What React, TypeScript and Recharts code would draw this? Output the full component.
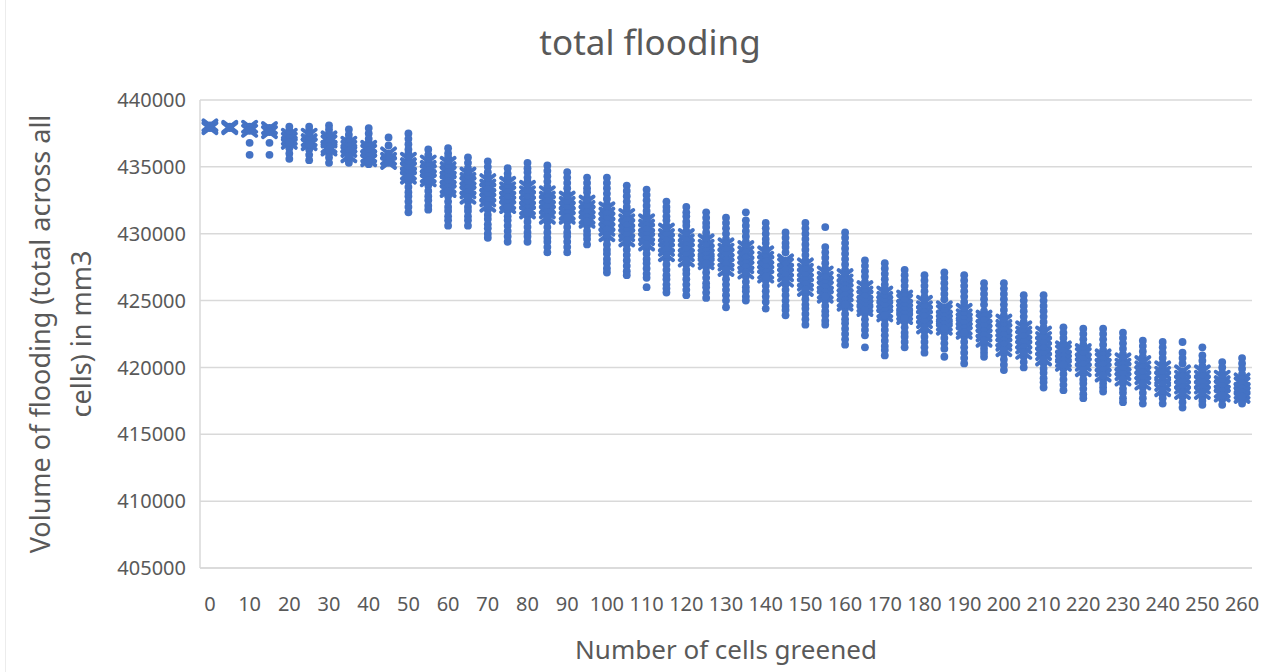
import { ScatterChart, Scatter, XAxis, YAxis, CartesianGrid } from 'recharts';

// Number of cells greened (one column of runs per step)
const cellsGreened = [
  0, 5, 10, 15, 20, 25, 30, 35, 40, 45, 50, 55, 60, 65, 70, 75, 80, 85, 90, 95,
  100, 105, 110, 115, 120, 125, 130, 135, 140, 145, 150, 155, 160, 165, 170, 175,
  180, 185, 190, 195, 200, 205, 210, 215, 220, 225, 230, 235, 240, 245, 250, 255, 260,
];

// Outlying runs per column, thousands of mm3
const runVolumes: number[][] = [
  [],
  [],
  [436.8, 435.9],
  [436.8, 435.9],
  [438.0, 437.7, 436.4, 436.0, 435.6],
  [438.0, 437.7, 436.3, 435.9, 435.5],
  [438.1, 437.8, 437.5, 436.0, 435.7, 435.3],
  [437.8, 437.4, 437.1, 435.5, 435.3],
  [437.9, 437.5, 437.1, 436.8, 435.2],
  [437.2, 436.6],
  [437.5, 437.1, 436.7, 436.3, 436.0, 433.9, 433.5, 433.1, 432.8, 432.4, 432.0, 431.6],
  [436.3, 435.9, 433.6, 433.2, 432.8, 432.5, 432.1, 431.8],
  [436.4, 436.0, 435.7, 432.8, 432.4, 432.0, 431.7, 431.3, 431.0, 430.6],
  [435.7, 435.3, 434.9, 432.4, 432.0, 431.7, 431.3, 431.0, 430.6],
  [435.4, 435.0, 434.6, 434.3, 431.8, 431.4, 431.1, 430.7, 430.4, 430.0, 429.7],
  [434.9, 434.5, 434.2, 431.7, 431.3, 431.0, 430.6, 430.2, 429.8, 429.4],
  [435.3, 434.9, 434.6, 434.2, 433.9, 431.3, 430.9, 430.5, 430.1, 429.8, 429.4],
  [435.1, 434.7, 434.3, 433.9, 433.5, 430.9, 430.5, 430.1, 429.7, 429.4, 429.0, 428.6],
  [434.6, 434.2, 433.8, 433.4, 433.0, 430.9, 430.5, 430.1, 429.8, 429.4, 429.0, 428.6],
  [434.2, 433.8, 433.4, 433.1, 432.7, 430.6, 430.2, 429.9, 429.6, 429.2],
  [434.2, 433.8, 433.4, 433.0, 432.6, 432.2, 429.6, 429.2, 428.8, 428.5, 428.1, 427.8, 427.4, 427.1],
  [433.6, 433.2, 432.8, 432.4, 432.0, 431.7, 429.2, 428.8, 428.4, 428.0, 427.6, 427.2, 426.9],
  [433.3, 432.9, 432.5, 432.1, 431.7, 431.4, 428.9, 428.5, 428.1, 427.8, 427.4, 427.0, 426.7, 426.0],
  [432.4, 432.0, 431.7, 431.3, 431.0, 430.6, 428.1, 427.7, 427.3, 426.9, 426.6, 426.2, 425.9, 425.6],
  [432.0, 431.6, 431.3, 430.9, 430.6, 430.2, 427.7, 427.3, 427.0, 426.6, 426.2, 425.8, 425.4],
  [431.6, 431.2, 430.8, 430.5, 430.1, 429.8, 427.5, 427.1, 426.7, 426.3, 426.0, 425.6, 425.2],
  [431.2, 430.8, 430.4, 430.0, 429.6, 427.0, 426.6, 426.2, 425.8, 425.4, 425.0, 424.5],
  [431.6, 431.0, 430.6, 430.2, 429.8, 429.4, 426.8, 426.4, 426.0, 425.7, 425.3, 425.0],
  [430.8, 430.4, 430.0, 429.6, 429.3, 428.9, 426.5, 426.1, 425.7, 425.3, 424.9, 424.4],
  [430.1, 429.7, 429.3, 429.0, 428.6, 426.2, 425.8, 425.4, 425.0, 424.6, 424.3, 423.9],
  [430.8, 430.4, 430.0, 429.6, 429.2, 428.8, 428.4, 428.0, 425.5, 425.1, 424.7, 424.4, 424.0, 423.6, 423.2],
  [430.5, 429.0, 428.6, 428.2, 427.8, 427.4, 425.0, 424.6, 424.2, 423.9, 423.5, 423.2],
  [430.1, 429.7, 429.3, 428.9, 428.5, 428.1, 427.7, 427.3, 424.4, 424.0, 423.6, 423.3, 422.9, 422.5, 422.1, 421.7],
  [428.0, 427.6, 427.2, 426.8, 426.4, 424.0, 423.6, 423.2, 422.8, 422.4, 421.5],
  [427.8, 427.4, 427.0, 426.6, 426.2, 425.9, 423.6, 423.2, 422.8, 422.4, 422.0, 421.6, 421.3, 420.9],
  [427.3, 426.9, 426.5, 426.1, 425.7, 423.4, 423.0, 422.6, 422.3, 421.9, 421.5],
  [426.9, 426.5, 426.1, 425.7, 425.3, 422.7, 422.3, 421.9, 421.5, 421.1],
  [427.1, 426.7, 426.3, 425.9, 425.5, 425.1, 422.6, 422.2, 421.8, 421.4, 420.8],
  [426.9, 426.5, 426.1, 425.7, 425.3, 424.9, 424.6, 422.3, 421.9, 421.5, 421.1, 420.7, 420.3],
  [426.3, 425.9, 425.5, 425.1, 424.7, 424.2, 421.7, 421.4, 421.1, 420.8],
  [426.3, 425.9, 425.5, 425.1, 424.7, 424.3, 423.9, 421.0, 420.6, 420.2, 419.8],
  [425.4, 425.0, 424.6, 424.2, 423.8, 423.4, 420.8, 420.4, 420.0],
  [425.4, 425.0, 424.6, 424.2, 423.8, 423.4, 423.0, 420.3, 419.9, 419.6, 419.2, 418.9, 418.5],
  [423.0, 422.6, 422.2, 421.8, 419.9, 419.5, 419.1, 418.7, 418.3],
  [422.9, 422.5, 422.1, 421.7, 419.5, 419.1, 418.8, 418.4, 418.0, 417.7],
  [422.9, 422.5, 422.1, 421.7, 421.3, 419.1, 418.8, 418.5, 418.2],
  [422.6, 422.2, 421.8, 421.4, 421.0, 418.8, 418.4, 418.1, 417.7, 417.4],
  [422.0, 421.6, 421.2, 420.8, 418.5, 418.1, 417.7, 417.3],
  [421.9, 421.5, 421.1, 420.7, 420.3, 418.0, 417.7, 417.3],
  [421.9, 421.1, 420.7, 420.3, 417.8, 417.4, 417.0],
  [421.5, 420.9, 420.5, 420.1, 417.8, 417.5, 417.2],
  [420.4, 420.0, 419.6, 417.6, 417.2],
  [420.7, 420.3, 419.9, 419.5, 417.5, 417.3],
];

// Dense middle band per column (drawn with cross markers), thousands of mm3
const coreVolumes: number[][] = [
  [438.1, 437.9],
  [438.0, 437.9],
  [438.0, 437.7],
  [437.9, 437.6],
  [437.4, 437.1, 436.8],
  [437.4, 437.0, 436.7],
  [437.2, 436.9, 436.5, 436.3],
  [436.8, 436.5, 436.2, 435.8],
  [436.5, 436.2, 435.8, 435.5],
  [436.0, 435.6, 435.3],
  [435.6, 435.2, 434.9, 434.5, 434.2],
  [435.4, 435.0, 434.7, 434.3, 434.0],
  [435.3, 434.9, 434.6, 434.2, 433.9, 433.5, 433.2],
  [434.5, 434.1, 433.8, 433.4, 433.1, 432.7],
  [434.0, 433.6, 433.3, 432.9, 432.5, 432.1],
  [433.8, 433.4, 433.1, 432.7, 432.3, 432.0],
  [433.5, 433.1, 432.7, 432.3, 431.9, 431.6],
  [433.1, 432.7, 432.4, 432.0, 431.6, 431.2],
  [432.7, 432.3, 431.9, 431.5, 431.2],
  [432.4, 432.0, 431.6, 431.2, 430.9],
  [431.9, 431.5, 431.1, 430.7, 430.3, 429.9],
  [431.4, 431.0, 430.6, 430.2, 429.9, 429.5],
  [431.0, 430.6, 430.3, 429.9, 429.6, 429.2],
  [430.3, 429.9, 429.5, 429.1, 428.8, 428.4],
  [429.9, 429.5, 429.1, 428.8, 428.4, 428.0],
  [429.5, 429.1, 428.7, 428.4, 428.1, 427.8],
  [429.2, 428.8, 428.4, 428.0, 427.7, 427.3],
  [429.0, 428.6, 428.2, 427.8, 427.5, 427.1],
  [428.6, 428.2, 427.9, 427.5, 427.1, 426.8],
  [428.0, 427.7, 427.3, 426.9, 426.5],
  [427.7, 427.3, 426.9, 426.5, 426.2, 425.8],
  [427.1, 426.7, 426.3, 426.0, 425.6, 425.3],
  [426.9, 426.5, 426.1, 425.8, 425.4, 425.0, 424.7],
  [426.0, 425.6, 425.3, 424.9, 424.6, 424.3],
  [425.6, 425.2, 424.9, 424.6, 424.2, 423.9],
  [425.3, 425.0, 424.6, 424.3, 424.0, 423.7],
  [424.9, 424.5, 424.1, 423.8, 423.4, 423.0],
  [424.5, 424.2, 423.8, 423.5, 423.2, 422.9],
  [424.3, 423.9, 423.6, 423.3, 422.9, 422.6],
  [423.8, 423.5, 423.1, 422.7, 422.4, 422.0],
  [423.5, 423.1, 422.8, 422.4, 422.0, 421.7, 421.3],
  [423.0, 422.6, 422.3, 421.9, 421.5, 421.1],
  [422.6, 422.2, 421.8, 421.4, 421.0, 420.6],
  [421.5, 421.2, 420.8, 420.5, 420.2],
  [421.3, 421.0, 420.6, 420.2, 419.8],
  [420.9, 420.6, 420.2, 419.8, 419.4],
  [420.6, 420.2, 419.9, 419.5, 419.1],
  [420.4, 420.0, 419.6, 419.2, 418.8],
  [420.0, 419.6, 419.2, 418.7, 418.3],
  [419.7, 419.3, 418.9, 418.5, 418.1],
  [419.7, 419.3, 418.9, 418.5, 418.1],
  [419.3, 418.9, 418.6, 418.2, 417.9],
  [419.1, 418.8, 418.4, 418.1, 417.8],
];

const xTicks = [0, 10, 20, 30, 40, 50, 60, 70, 80, 90, 100, 110, 120, 130, 140, 150, 160, 170, 180, 190, 200, 210, 220, 230, 240, 250, 260];
const yTicks = [405000, 410000, 415000, 420000, 425000, 430000, 435000, 440000];

const BLUE = '#4472C4';
const TEXT = '#595959';
const GRID = '#d9d9d9';
const FONT = '"Noto Sans", "Open Sans", sans-serif';

const toPoints = (cols: number[][]) =>
  cellsGreened.flatMap((cells, i) => cols[i].map((v) => ({ x: cells, y: v * 1000 })));

const runPoints = toPoints(runVolumes);
const corePoints = toPoints(coreVolumes);

const Dot = (props: any) => <circle cx={props.cx} cy={props.cy} r={3.9} fill={BLUE} />;

const Cross = (props: any) => {
  const { cx, cy } = props;
  return (
    <g>
      <path
        d={`M${cx - 6.5},${cy - 5}L${cx + 6.5},${cy + 5}M${cx - 6.5},${cy + 5}L${cx + 6.5},${cy - 5}`}
        stroke={BLUE}
        strokeWidth={4}
        strokeLinecap="round"
        fill="none"
      />
      <circle cx={cx} cy={cy} r={4} fill={BLUE} />
    </g>
  );
};

const YTitle = (props: any) => {
  const cy = props.viewBox.y + props.viewBox.height / 2;
  return (
    <g fill={TEXT} fontSize={27} fontFamily={FONT}>
      <text x={50} y={cy} textAnchor="middle" transform={`rotate(-90, 50, ${cy})`}>
        Volume of flooding (total across all
      </text>
      <text x={91} y={cy} textAnchor="middle" transform={`rotate(-90, 91, ${cy})`}>
        cells) in mm3
      </text>
    </g>
  );
};

const XTitle = (props: any) => {
  const cx = props.viewBox.x + props.viewBox.width / 2;
  return (
    <text x={cx} y={659} textAnchor="middle" fill={TEXT} fontSize={26} fontFamily={FONT}>
      Number of cells greened
    </text>
  );
};

export default function App() {
  return (
    <div
      style={{
        position: 'absolute',
        left: 0,
        top: 0,
        width: 1266,
        height: 672,
        background: '#fff',
        fontFamily: FONT,
      }}
    >
      <div style={{ position: 'absolute', left: 5, top: 0, width: 1, height: 672, background: '#ececec' }} />
      <div
        style={{
          position: 'absolute',
          left: 0,
          width: 1300,
          top: 22,
          textAlign: 'center',
          fontSize: 35,
          lineHeight: '40px',
          color: TEXT,
        }}
      >
        total flooding
      </div>
      <ScatterChart
        width={1266}
        height={672}
        margin={{ top: 100, right: 14, left: 90, bottom: 44 }}
        style={{ position: 'absolute', left: 0, top: 0 }}
      >
        <CartesianGrid horizontal vertical={false} stroke={GRID} strokeWidth={1.5} />
        <XAxis
          type="number"
          dataKey="x"
          domain={[-2.5, 262.5]}
          ticks={xTicks}
          interval={0}
          height={60}
          tickSize={0}
          tickMargin={29}
          axisLine={{ stroke: GRID, strokeWidth: 1.5 }}
          tick={{ fill: TEXT, fontSize: 20, fontFamily: FONT }}
          label={{ content: XTitle }}
        />
        <YAxis
          type="number"
          dataKey="y"
          domain={[405000, 440000]}
          ticks={yTicks}
          interval={0}
          width={110}
          tickSize={0}
          tickMargin={14}
          axisLine={{ stroke: GRID, strokeWidth: 1.5 }}
          tick={{ fill: TEXT, fontSize: 20, fontFamily: FONT }}
          label={{ content: YTitle }}
        />
        <Scatter data={runPoints} shape={Dot} isAnimationActive={false} />
        <Scatter data={corePoints} shape={Cross} isAnimationActive={false} />
      </ScatterChart>
    </div>
  );
}
